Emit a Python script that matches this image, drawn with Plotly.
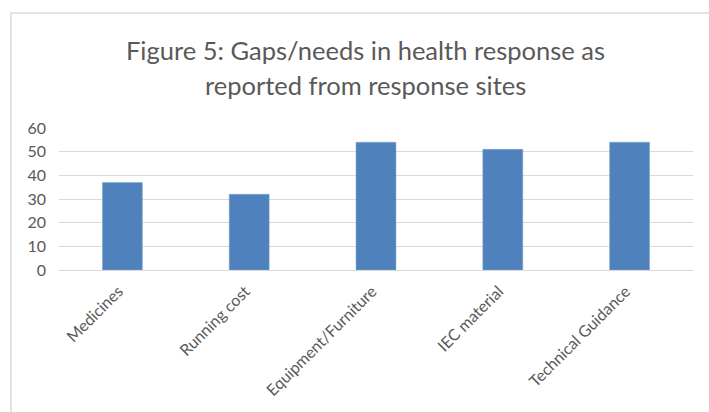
import plotly.graph_objects as go

categories = ["Medicines", "Running cost", "Equipment/Furniture", "IEC material", "Technical Guidance"]
values = [37, 32, 54, 51, 54]
y_ticks = [0, 10, 20, 30, 40, 50, 60]
title_lines = ["Figure 5: Gaps/needs in health response as", "reported from response sites"]

W, H = 709, 412
L, R, T, B = 59, 16, 128, 142
PH = H - T - B
FONT = "Lato, Open Sans, sans-serif"

fig = go.Figure(go.Bar(x=categories, y=values, marker=dict(color="#4f81bd", line=dict(color="#7fa3d1", width=0.5))))

annotations = []
for line, yc in zip(title_lines, [50, 85]):
    annotations.append(dict(
        text=line, xref="paper", yref="paper",
        x=(365 - L) / (W - L - R), y=(H - yc - B) / PH,
        xanchor="center", yanchor="middle", showarrow=False,
        font=dict(size=25.5, color="#595959", family=FONT),
    ))

fig.update_layout(
    width=W, height=H,
    margin=dict(l=L, r=R, t=T, b=B, autoexpand=False),
    paper_bgcolor="white", plot_bgcolor="white",
    bargap=0.685,
    showlegend=False,
    font=dict(family=FONT, color="#595959"),
    annotations=annotations,
    xaxis=dict(
        tickangle=-45, tickfont=dict(size=16, color="#595959", family=FONT),
        showgrid=False, showline=False, ticks="", zeroline=False,
        ticklabelshift=-4, ticklabelstandoff=8,
    ),
    yaxis=dict(
        range=[0, 60], tickvals=y_ticks, tickfont=dict(size=16, color="#595959", family=FONT),
        showgrid=True, gridcolor="#d9d9d9", gridwidth=1.3,
        zeroline=True, zerolinecolor="#d9d9d9", zerolinewidth=1.3,
        showline=False, ticks="", ticklabelstandoff=12,
    ),
    shapes=[dict(
        type="rect", xref="paper", yref="paper",
        x0=(11 - L) / (W - L - R), x1=(W + 20 - L) / (W - L - R),
        y0=-200 / PH, y1=(H - 13 - B) / PH,
        line=dict(color="#d9d9d9", width=1.5), fillcolor="rgba(0,0,0,0)", layer="below",
    )],
)

fig.write_html("out.html")
